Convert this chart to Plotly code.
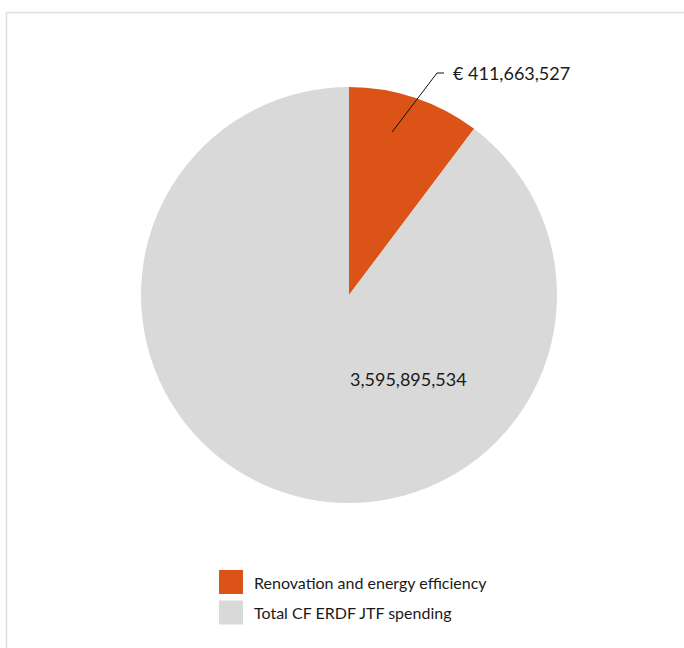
import math
import plotly.graph_objects as go

labels = ["Renovation and energy efficiency", "Total CF ERDF JTF spending"]
values = [411663527, 3595895534]
colors = ["#dc5318", "#d9d9d9"]

W, H = 684, 648
CX, CY, R = 349, 295, 208  # pie centre and radius in px


def px(x):
    return x / W


def py(y):
    return 1 - y / H


fig = go.Figure()
fig.add_trace(go.Pie(
    labels=labels, values=values, marker=dict(colors=colors, line=dict(width=0)),
    sort=False, direction="clockwise", rotation=0, textinfo="none",
    showlegend=False, hoverinfo="label+value",
    domain=dict(x=[px(CX - R), px(CX + R)], y=[py(CY + R), py(CY - R)]),
))

# leader line for the small slice, anchored inside the slice
frac = values[0] / sum(values)
ang = math.radians(360 * frac * 0.4)
ax0 = CX + 0.81 * R * math.sin(ang)
ay0 = CY - 0.81 * R * math.cos(ang)
ex, ey = 437, 73
shapes = [dict(type="path", xref="paper", yref="paper",
               path=f"M {px(ax0)},{py(ay0)} L {px(ex)},{py(ey)} L {px(ex + 7)},{py(ey)}",
               line=dict(color="#111", width=1))]

annotations = [
    dict(x=px(ex + 14), y=py(ey), xref="paper", yref="paper", xanchor="left", yanchor="middle",
         text=f"€ {values[0]:,}", showarrow=False, font=dict(size=18, color="#1a1a1a")),
    dict(x=px(CX + 59), y=py(CY + 84), xref="paper", yref="paper", xanchor="center", yanchor="middle",
         text=f"{values[1]:,}", showarrow=False, font=dict(size=18, color="#1a1a1a")),
]

# frame lines (top and left)
shapes.append(dict(type="line", xref="paper", yref="paper", x0=px(6.5), x1=1, y0=py(12.5), y1=py(12.5),
                   line=dict(color="#dddddd", width=1.5)))
shapes.append(dict(type="line", xref="paper", yref="paper", x0=px(6.5), x1=px(6.5), y0=py(12.5), y1=0,
                   line=dict(color="#dddddd", width=1.5)))

# legend
for i, (lab, col) in enumerate(zip(labels, colors)):
    top = 570 + 30.5 * i
    shapes.append(dict(type="rect", xref="paper", yref="paper", x0=px(219), x1=px(243),
                       y0=py(top + 24), y1=py(top), fillcolor=col, line=dict(width=0)))
    annotations.append(dict(x=px(252), y=py(top + 12), xref="paper", yref="paper",
                            xanchor="left", yanchor="middle", text=lab, showarrow=False,
                            font=dict(size=16, color="#1a1a1a")))

fig.update_layout(
    width=W, height=H, margin=dict(l=0, r=0, t=0, b=0),
    paper_bgcolor="white", plot_bgcolor="white",
    font=dict(family="Lato", color="#1a1a1a"),
    shapes=shapes, annotations=annotations,
)

# drop the browser's default body margin so the figure fills the window
fig.write_html("out.html", config={"displayModeBar": False},
               post_script="document.body.style.margin='0';document.body.style.overflow='hidden';")
